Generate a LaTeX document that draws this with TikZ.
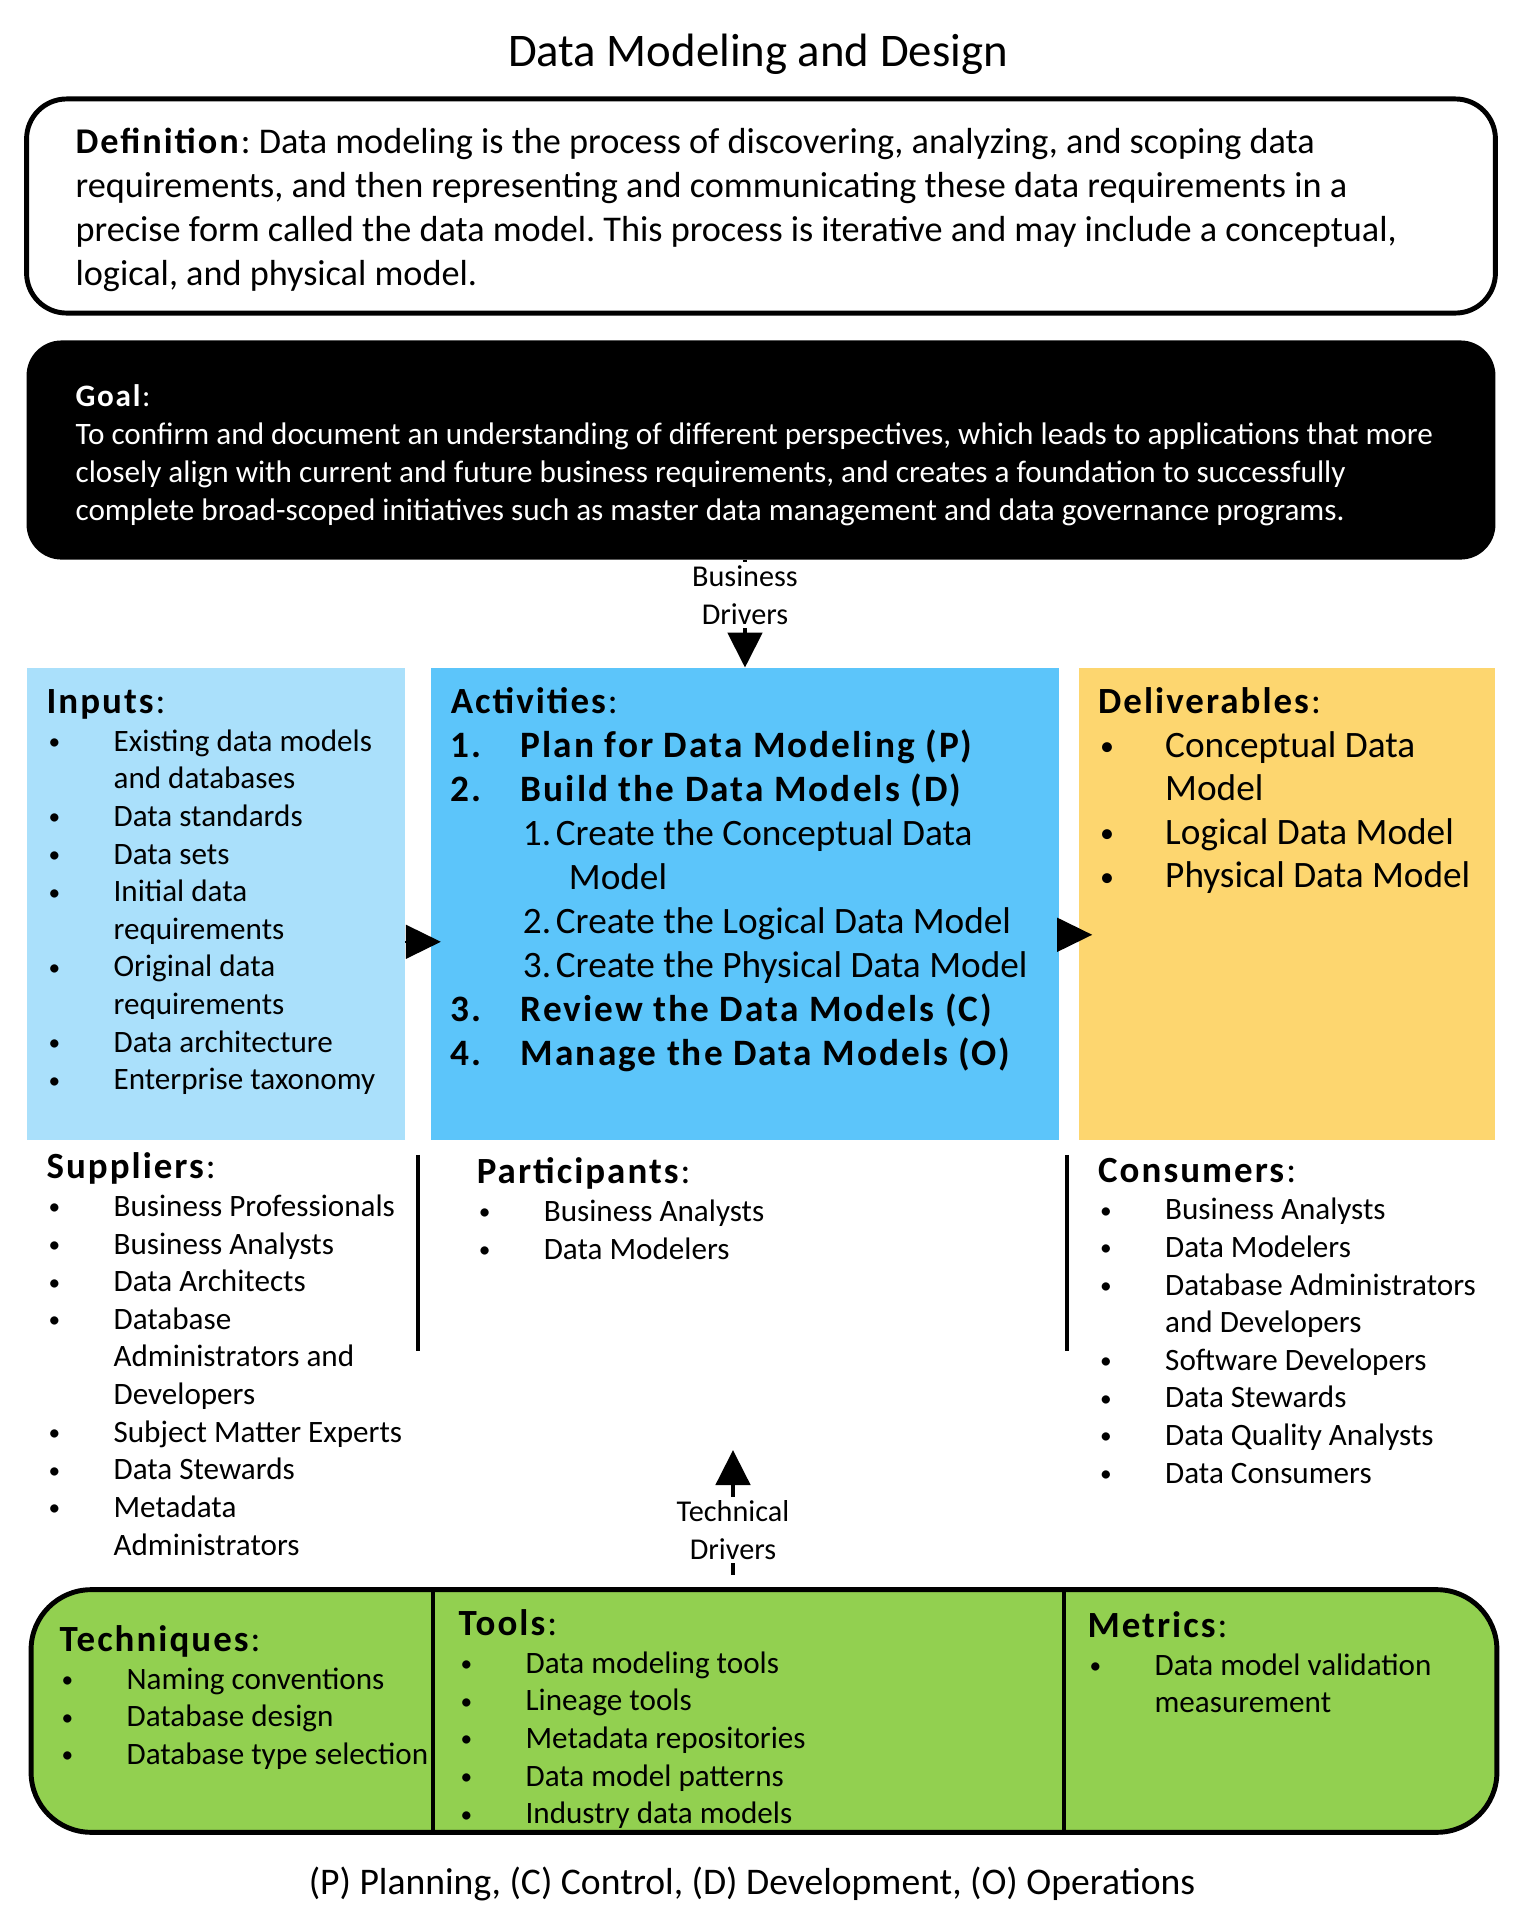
\documentclass[tikz,border=0pt]{standalone}
\usepackage{fontspec}
\usepackage{graphicx}
\setmainfont{Carlito}[BoldFeatures={LetterSpace=5.5}]
\usetikzlibrary{arrows.meta, positioning, calc}

\definecolor{inblue}{RGB}{170,224,251}
\definecolor{actblue}{RGB}{92,197,250}
\definecolor{delorange}{RGB}{253,214,111}
\definecolor{grn}{RGB}{146,208,80}

\newcommand{\hd}[1]{{\fontsize{10.5pt}{12.5pt}\selectfont\textbf{#1}:}}
\newcommand{\bul}{\makebox[0.67cm][l]{\hspace{0.02cm}\raisebox{0.05em}{\scalebox{0.75}{\textbullet}}}}
\newcommand{\cnt}{\hspace*{0.67cm}}
\newcommand{\num}[1]{\makebox[0.7cm][l]{#1}}
\newcommand{\sub}[1]{\hspace*{0.72cm}\makebox[0.33cm][l]{#1}}
\frenchspacing

\begin{document}
\begin{tikzpicture}[x=0.01cm, y=-0.01cm,
  every node/.style={font=\fontsize{8.85pt}{10.7pt}\selectfont, inner sep=0pt, outer sep=0pt},
  box/.style={minimum height=4.72cm},
  txt/.style={anchor=north west, align=left},
  big/.style={font=\fontsize{10.6pt}{12.5pt}\selectfont},
  tip/.style={-{Triangle[length=0.35cm,width=0.34cm]}},
  drv/.style={fill=white, inner sep=1pt, align=center, font=\fontsize{8.6pt}{10.8pt}\selectfont}]
\useasboundingbox (0,0) rectangle (1526,1920);

% Header
\node[font=\fontsize{13.3pt}{15pt}\selectfont] (title) at (758,54) {Data Modeling and Design};
\node[draw, line width=1.4pt, fill=white, rounded corners=0.4cm, minimum width=14.68cm, minimum height=2.14cm] (def) at (761,206) {};
\node[anchor=west, align=left, font=\fontsize{10.3pt}{12.5pt}\selectfont] (deftxt) at ([xshift=0.49cm,yshift=-0.04cm]def.west) {\textbf{Definition}: Data modeling is the process of discovering, analyzing, and scoping data\\ requirements, and then representing and communicating these data requirements in a\\ precise form called the data model. This process is iterative and may include a conceptual,\\ logical, and physical model.};
\node[fill=black, rounded corners=0.35cm, minimum width=14.68cm, minimum height=2.19cm] (goal) at (761,450) {};
\node[anchor=west, align=left, text=white, font=\fontsize{8.87pt}{10.8pt}\selectfont] (goaltxt) at ([xshift=0.49cm,yshift=-0.05cm]goal.west) {\textbf{Goal}:\\ To confirm and document an understanding of different perspectives, which leads to applications that more\\ closely align with current and future business requirements, and creates a foundation to successfully\\ complete broad-scoped initiatives such as master data management and data governance programs.};

% Boxes
\node[box, fill=inblue, minimum width=3.78cm, below right=1.08cm and 0cm of goal.south west] (inputs) {};
\node[box, fill=actblue, minimum width=6.28cm, right=0.26cm of inputs] (act) {};
\node[box, fill=delorange, minimum width=4.16cm, right=0.2cm of act] (deliv) {};

\node[txt] (intxt) at ([shift={(20,22)}]inputs.north west) {\hd{Inputs}\\
\bul Existing data models\\ \cnt and databases\\ \bul Data standards\\ \bul Data sets\\
\bul Initial data\\ \cnt requirements\\ \bul Original data\\ \cnt requirements\\
\bul Data architecture\\ \bul Enterprise taxonomy};
\node[txt, big] (acttxt) at ([shift={(20,20)}]act.north west) {\hd{Activities}\\
\textbf{\num{1.}Plan for Data Modeling (P)}\\
\textbf{\num{2.}Build the Data Models (D)}\\
\sub{1.}Create the Conceptual Data\\ \hspace*{1.18cm}Model\\
\sub{2.}Create the Logical Data Model\\
\sub{3.}Create the Physical Data Model\\
\textbf{\num{3.}Review the Data Models (C)}\\
\textbf{\num{4.}Manage the Data Models (O)}};
\node[txt, font=\fontsize{10.6pt}{12.4pt}\selectfont] (deltxt) at ([shift={(19,20)}]deliv.north west) {\hd{Deliverables}\\
\bul Conceptual Data\\ \cnt Model\\ \bul Logical Data Model\\ \bul Physical Data Model};

% Suppliers, participants, consumers
\node[txt] (suptxt) at ([shift={(20,13)}]inputs.south west) {\hd{Suppliers}\\
\bul Business Professionals\\ \bul Business Analysts\\ \bul Data Architects\\
\bul Database\\ \cnt Administrators and\\ \cnt Developers\\ \bul Subject Matter Experts\\
\bul Data Stewards\\ \bul Metadata\\ \cnt Administrators};
\node[txt] (partxt) at ([shift={(46,18)}]act.south west) {\hd{Participants}\\
\bul Business Analysts\\ \bul Data Modelers};
\node[txt] (context) at ([shift={(19,18)}]deliv.south west) {\hd{Consumers}\\
\bul Business Analysts\\ \bul Data Modelers\\ \bul Database Administrators\\ \cnt and Developers\\
\bul Software Developers\\ \bul Data Stewards\\ \bul Data Quality Analysts\\ \bul Data Consumers};
\draw[line width=1pt] ([shift={(13,15)}]inputs.south east) -- ++(0,196);
\draw[line width=1pt] ([shift={(-12,15)}]deliv.south west) -- ++(0,196);

% Techniques, tools, metrics
\node[draw, line width=1.4pt, fill=grn, rounded corners=0.6cm, minimum width=14.65cm, minimum height=2.425cm, below right=4.495cm and 0.045cm of inputs.south west] (green) {};
\draw[line width=1.2pt] ([xshift=4.015cm]green.north west) -- ([xshift=4.015cm]green.south west);
\draw[line width=1.2pt] ([xshift=10.325cm]green.north west) -- ([xshift=10.325cm]green.south west);
\node[txt] (techtxt) at ([shift={(28.5,36)}]green.north west) {\hd{Techniques}\\
\bul Naming conventions\\ \bul Database design\\ \bul Database type selection};
\node[txt] (tooltxt) at ([shift={(427.5,20)}]green.north west) {\hd{Tools}\\
\bul Data modeling tools\\ \bul Lineage tools\\ \bul Metadata repositories\\
\bul Data model patterns\\ \bul Industry data models};
\node[txt] (mettxt) at ([shift={(1056.5,22)}]green.north west) {\hd{Metrics}\\
\bul Data model validation\\ \cnt measurement};

% Arrows
\draw[tip, shorten >=-0.1cm] ([yshift=-0.38cm]inputs.east) -- ([yshift=-0.38cm]act.west);
\draw[tip, shorten >=-0.13cm] ([yshift=-0.31cm]act.east) -- ([yshift=-0.31cm]deliv.west);
\draw[tip, line width=1.4pt] (act.north |- goal.south) -- (act.north) node[drv, pos=0.33] (bizdrv) {Business\\Drivers};
\coordinate (techtip) at (733,1450);
\draw[tip, line width=1.4pt, shorten <=0.15cm] (techtip |- green.north) -- (techtip) node[drv, pos=0.43] (techdrv) {Technical\\Drivers};

\node[font=\fontsize{10.7pt}{12pt}\selectfont] (legend) at (752,1884) {(P) Planning, (C) Control, (D) Development, (O) Operations};
\end{tikzpicture}
\end{document}
